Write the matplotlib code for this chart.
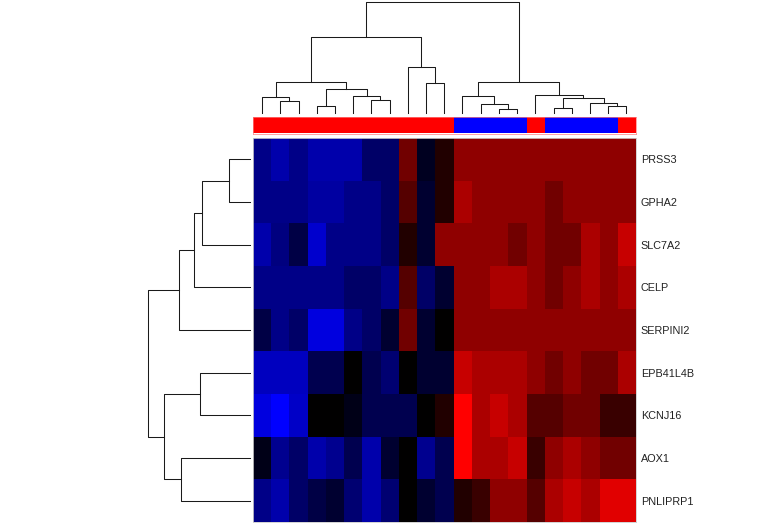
import matplotlib
matplotlib.use("Agg")
import matplotlib.pyplot as plt
import numpy as np
from matplotlib.colors import LinearSegmentedColormap, ListedColormap

# gene rows, in display order (top to bottom)
genes = ["PRSS3", "GPHA2", "SLC7A2", "CELP", "SERPINI2",
         "EPB41L4B", "KCNJ16", "AOX1", "PNLIPRP1"]

# scaled expression, columns in dendrogram order
expr = [
    [-0.53, -0.67, -0.53, -0.67, -0.67, -0.67, -0.40, -0.40, 0.44, -0.13, 0.13,
     0.56, 0.56, 0.56, 0.56, 0.56, 0.56, 0.56, 0.56, 0.56, 0.56],
    [-0.53, -0.53, -0.53, -0.63, -0.63, -0.53, -0.53, -0.40, 0.33, -0.19, 0.13,
     0.67, 0.56, 0.56, 0.56, 0.56, 0.44, 0.56, 0.56, 0.56, 0.56],
    [-0.67, -0.50, -0.27, -0.80, -0.53, -0.53, -0.53, -0.40, 0.13, -0.19, 0.56,
     0.56, 0.56, 0.56, 0.44, 0.56, 0.44, 0.44, 0.67, 0.56, 0.78],
    [-0.53, -0.53, -0.53, -0.53, -0.53, -0.40, -0.40, -0.53, 0.33, -0.40, -0.19,
     0.56, 0.56, 0.67, 0.67, 0.56, 0.44, 0.56, 0.67, 0.56, 0.67],
    [-0.27, -0.53, -0.40, -0.87, -0.87, -0.53, -0.40, -0.19, 0.44, -0.19, 0.00,
     0.56, 0.56, 0.56, 0.56, 0.56, 0.56, 0.56, 0.56, 0.56, 0.56],
    [-0.75, -0.75, -0.75, -0.31, -0.31, 0.00, -0.31, -0.44, 0.00, -0.19, -0.19,
     0.78, 0.67, 0.67, 0.67, 0.56, 0.44, 0.56, 0.44, 0.44, 0.67],
    [-0.87, -1.00, -0.78, 0.00, 0.00, -0.09, -0.31, -0.31, -0.31, 0.00, 0.13,
     1.00, 0.67, 0.78, 0.67, 0.33, 0.33, 0.44, 0.44, 0.22, 0.22],
    [-0.09, -0.56, -0.40, -0.67, -0.56, -0.31, -0.67, -0.19, 0.00, -0.56, -0.31,
     1.00, 0.67, 0.67, 0.78, 0.22, 0.56, 0.67, 0.56, 0.44, 0.44],
    [-0.53, -0.67, -0.40, -0.27, -0.19, -0.44, -0.67, -0.44, 0.00, -0.19, -0.31,
     0.13, 0.22, 0.56, 0.56, 0.33, 0.67, 0.78, 0.67, 0.88, 0.88],
]

# sample groups (column side colours)
groups = ["A"] * 11 + ["B"] * 4 + ["A"] + ["B"] * 4 + ["A"]
group_colors = {"A": "#FF0000", "B": "#0000FF"}

# column dendrogram: (left, right, height); ids >= 21 refer to earlier merges
n_cols = 21
col_links = [
    (1, 2, 36), (0, 21, 48), (3, 4, 22), (6, 7, 40), (5, 24, 53),
    (23, 25, 73), (22, 26, 95), (9, 10, 90), (8, 28, 140), (27, 29, 230),
    (13, 14, 14), (12, 31, 27), (11, 32, 51), (16, 17, 17), (19, 20, 22),
    (18, 35, 30), (34, 36, 45), (15, 37, 55), (33, 38, 95), (30, 39, 335),
]
# row dendrogram
n_rows = 9
row_links = [
    (0, 1, 64), (9, 2, 145), (10, 3, 167), (11, 4, 212),
    (5, 6, 149), (7, 8, 208), (13, 14, 259), (12, 15, 305),
]


def dendro_segments(links, n):
    pos = {i: float(i) for i in range(n)}
    hgt = {i: 0.0 for i in range(n)}
    segs = []
    for k, (a, b, h) in enumerate(links):
        cid = n + k
        pa, pb = pos[a], pos[b]
        segs.append(([pa, pa, pb, pb], [hgt[a], h, h, hgt[b]]))
        pos[cid] = (pa + pb) / 2
        hgt[cid] = h
    return segs, max(h for _, _, h in links)


fig = plt.figure(figsize=(7.65, 5.27), dpi=100)
W, H = 765, 527


def px_axes(x0, y0, x1, y1):
    return fig.add_axes([x0 / W, 1 - y1 / H, (x1 - x0) / W, (y1 - y0) / H])


cmap = LinearSegmentedColormap.from_list("bkr", ["#0000FF", "#000000", "#FF0000"])

# heatmap
ax_hm = px_axes(253, 138, 635.5, 522)
ax_hm.imshow(np.array(expr), cmap=cmap, vmin=-1, vmax=1, aspect="auto",
             interpolation="nearest")
ax_hm.set_xticks([])
ax_hm.set_yticks(range(n_rows))
ax_hm.set_yticklabels(genes, fontsize=7.8, family="Liberation Sans", color="#222222")
ax_hm.yaxis.tick_right()
ax_hm.tick_params(axis="y", length=0, pad=3.8)
for s in ax_hm.spines.values():
    s.set_color("#cccccc")
    s.set_linewidth(0.6)

# column side colours
ax_cs = px_axes(253, 117, 635.5, 133.5)
codes = [0 if g == "A" else 1 for g in groups]
ax_cs.imshow(np.array([codes]), cmap=ListedColormap([group_colors["A"], group_colors["B"]]),
             vmin=0, vmax=1, aspect="auto", interpolation="nearest")
ax_cs.set_xticks([])
ax_cs.set_yticks([])
for s in ax_cs.spines.values():
    s.set_color("#ff8080")
    s.set_linewidth(0.5)

# top dendrogram
ax_top = px_axes(253, 1.7, 635.5, 113.3)
segs, hmax = dendro_segments(col_links, n_cols)
for xs, ys in segs:
    ax_top.plot(xs, ys, color="#1a1a1a", lw=0.75, clip_on=False)
ax_top.set_xlim(-0.5, n_cols - 0.5)
ax_top.set_ylim(0, hmax)
ax_top.axis("off")

# left dendrogram
ax_left = px_axes(148.3, 138, 250, 522)
segs, hmax = dendro_segments(row_links, n_rows)
for ys, xs in segs:
    ax_left.plot(xs, ys, color="#1a1a1a", lw=0.75, clip_on=False)
ax_left.set_xlim(hmax, 0)
ax_left.set_ylim(n_rows - 0.5, -0.5)
ax_left.axis("off")

plt.savefig("out.png", dpi=100)
plt.close(fig)
